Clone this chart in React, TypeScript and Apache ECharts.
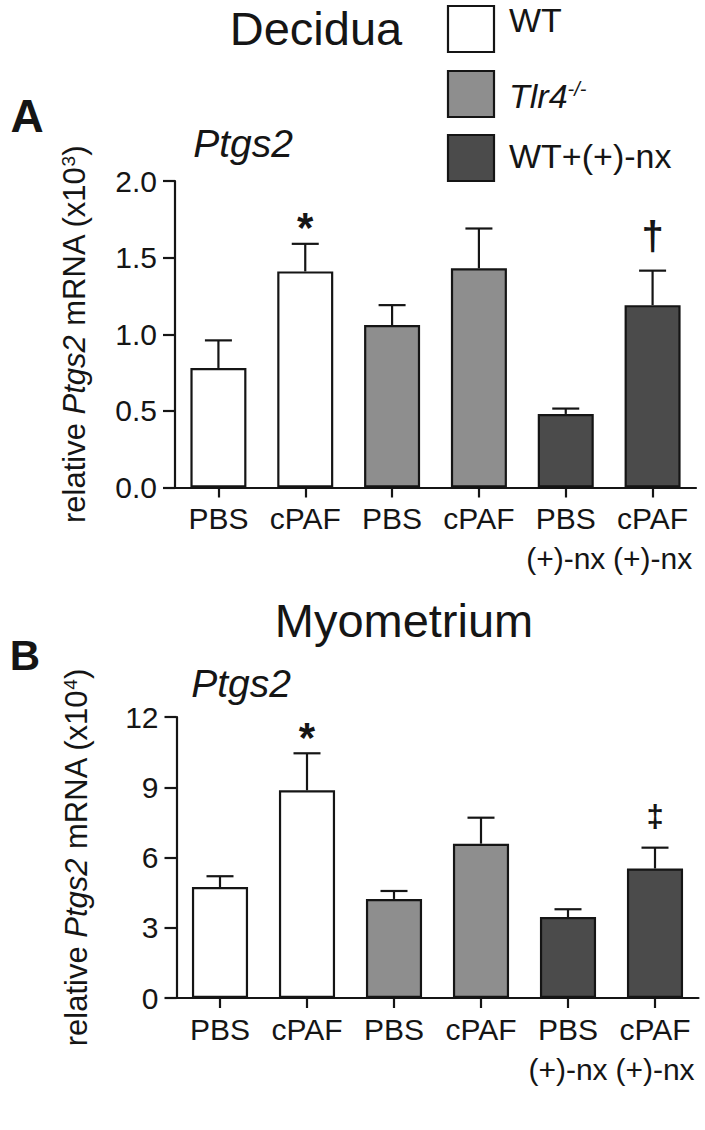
import React, { useEffect, useRef } from "react";
import * as echarts from "echarts";

// ---------- data ----------
const categories = ["PBS", "cPAF", "PBS", "cPAF", "PBS\n(+)-nx", "cPAF\n(+)-nx"];
const groupOfBar = [0, 0, 1, 1, 2, 2];
const legendLabels = ["WT", "Tlr4", "WT+(+)-nx"];

const deciduaMean = [0.78, 1.41, 1.06, 1.43, 0.48, 1.19];
const deciduaSem = [0.18, 0.18, 0.13, 0.26, 0.035, 0.225];
const deciduaSig = ["", "*", "", "", "", "†"];
const deciduaTicks = [0, 2, 0.5]; // min, max, interval

const myoMean = [4.74, 8.87, 4.23, 6.59, 3.46, 5.53];
const myoSem = [0.46, 1.58, 0.34, 1.11, 0.33, 0.89];
const myoSig = ["", "*", "", "", "", "‡"];
const myoTicks = [0, 12, 3];

// ---------- styles ----------
const FONT = "'Liberation Sans', Arial, Helvetica, sans-serif";
const INK = "#151515";
const groupColors = ["#ffffff", "#8e8e8e", "#4b4b4b"];
const markerStyle: Record<string, { size: number; gap: number }> = {
  "*": { size: 42, gap: 16 },
  "†": { size: 40, gap: 35 },
  "‡": { size: 31, gap: 31 },
};

function errorSeries(idx: number, mean: number[], sem: number[], sig: string[]) {
  return {
    type: "custom",
    xAxisIndex: idx,
    yAxisIndex: idx,
    z: 5,
    clip: false,
    data: mean.map((m, k) => [k, m, m + sem[k]]),
    renderItem: (params: any, api: any) => {
      const k = api.value(0);
      const lo = api.coord([k, api.value(1)]);
      const hi = api.coord([k, api.value(2)]);
      const half = 13.5;
      const ls = { stroke: INK, lineWidth: 2.2 };
      const children: any[] = [
        { type: "line", shape: { x1: lo[0], y1: lo[1], x2: hi[0], y2: hi[1] }, style: ls },
        { type: "line", shape: { x1: hi[0] - half, y1: hi[1], x2: hi[0] + half, y2: hi[1] }, style: ls },
      ];
      const s = sig[params.dataIndex];
      if (s) {
        const ms = markerStyle[s];
        children.push({
          type: "text",
          x: hi[0],
          y: hi[1] - ms.gap,
          style: {
            text: s,
            fill: INK,
            fontSize: ms.size,
            fontFamily: FONT,
            fontWeight: "bold",
            align: "center",
            verticalAlign: "middle",
          },
        });
      }
      return { type: "group", children };
    },
  };
}

function barSeries(idx: number, mean: number[]) {
  return {
    type: "bar",
    xAxisIndex: idx,
    yAxisIndex: idx,
    barWidth: "64.5%",
    z: 2,
    data: mean.map((v, k) => ({
      value: v,
      itemStyle: { color: groupColors[groupOfBar[k]] },
    })),
    itemStyle: { borderColor: INK, borderWidth: 2.2 },
  };
}

function xAxisOf(idx: number) {
  return {
    type: "category",
    gridIndex: idx,
    data: categories,
    axisLine: { show: true, lineStyle: { color: INK, width: 2.2 } },
    axisTick: { show: true, alignWithLabel: true, length: 10, lineStyle: { color: INK, width: 2.2 } },
    axisLabel: {
      color: INK,
      fontSize: 30,
      fontFamily: FONT,
      lineHeight: 40,
      margin: 11,
      interval: 0,
    },
    splitLine: { show: false },
  };
}

function yAxisOf(idx: number, ticks: number[], decimals: number, power: string) {
  return {
    type: "value",
    gridIndex: idx,
    min: ticks[0],
    max: ticks[1],
    interval: ticks[2],
    name: `{n|relative }{i|Ptgs2}{n| mRNA (x10}{s|${power}}{n|)}`,
    nameLocation: "middle",
    nameRotate: 90,
    nameGap: 85,
    nameTextStyle: {
      color: INK,
      fontFamily: FONT,
      fontSize: 31,
      rich: {
        n: { fontSize: 31, fontFamily: FONT, color: INK },
        i: { fontSize: 31, fontFamily: FONT, color: INK, fontStyle: "italic" },
        s: { fontSize: 19, fontFamily: FONT, color: INK, verticalAlign: "top" },
      },
    },
    axisLine: { show: true, lineStyle: { color: INK, width: 2.2 } },
    axisTick: { show: true, inside: false, length: 12, lineStyle: { color: INK, width: 2.2 } },
    axisLabel: {
      color: INK,
      fontSize: 30,
      fontFamily: FONT,
      margin: 18,
      formatter: (v: number) => v.toFixed(decimals),
    },
    splitLine: { show: false },
  };
}

function txt(text: string, x: number, baseline: number, size: number, extra: any = {}) {
  return {
    type: "text",
    x,
    y: baseline - 0.3465 * size,
    style: {
      text,
      fill: INK,
      fontSize: size,
      fontFamily: FONT,
      align: "left",
      verticalAlign: "middle",
      ...extra,
    },
  };
}

export default function App() {
  const ref = useRef<HTMLDivElement>(null);
  useEffect(() => {
    if (!ref.current) return;
    const chart = echarts.init(ref.current, undefined, { renderer: "svg" });

    const legendTops = [6, 71, 135];
    const legendBaselines = [32, 108, 168];
    const legendGraphics: any[] = [];
    legendLabels.forEach((label, g) => {
      legendGraphics.push({
        type: "rect",
        shape: { x: 448, y: legendTops[g], width: 46, height: 46 },
        style: { fill: groupColors[g], stroke: INK, lineWidth: 2.2 },
      });
      if (label === "Tlr4") {
        legendGraphics.push({
          type: "text",
          x: 509,
          y: legendBaselines[g] - 0.3465 * 34,
          style: {
            text: "{i|Tlr4}{s|-/-}",
            fill: INK,
            fontFamily: FONT,
            fontSize: 34,
            align: "left",
            verticalAlign: "middle",
            rich: {
              i: { fontSize: 34, fontStyle: "italic", fontFamily: FONT, fill: INK },
              s: { fontSize: 20, fontStyle: "italic", fontFamily: FONT, fill: INK, verticalAlign: "top" },
            },
          },
        });
      } else {
        legendGraphics.push(txt(label, 509, legendBaselines[g], 34));
      }
    });

    chart.setOption({
      animation: false,
      backgroundColor: "#ffffff",
      grid: [
        { left: 175, top: 181, width: 521, height: 306.5, outerBoundsMode: "none" },
        { left: 176.5, top: 717, width: 522, height: 281, outerBoundsMode: "none" },
      ],
      xAxis: [xAxisOf(0), xAxisOf(1)],
      yAxis: [yAxisOf(0, deciduaTicks, 1, "3"), yAxisOf(1, myoTicks, 0, "4")],
      series: [
        barSeries(0, deciduaMean),
        errorSeries(0, deciduaMean, deciduaSem, deciduaSig),
        barSeries(1, myoMean),
        errorSeries(1, myoMean, myoSem, myoSig),
      ],
      graphic: [
        txt("Decidua", 316, 45, 47, { align: "center" }),
        txt("Myometrium", 404, 637, 47, { align: "center" }),
        txt("Ptgs2", 243, 157, 39, { align: "center", fontStyle: "italic" }),
        txt("Ptgs2", 241, 697, 39, { align: "center", fontStyle: "italic" }),
        txt("A", 27, 132, 46, { align: "center", fontWeight: "bold" }),
        txt("B", 25, 670, 42, { align: "center", fontWeight: "bold" }),
        ...legendGraphics,
      ],
    });
    return () => chart.dispose();
  }, []);
  return (
    <div
      ref={ref}
      style={{ position: "absolute", left: 0, top: 0, width: 705, height: 1130, background: "#fff" }}
    />
  );
}
